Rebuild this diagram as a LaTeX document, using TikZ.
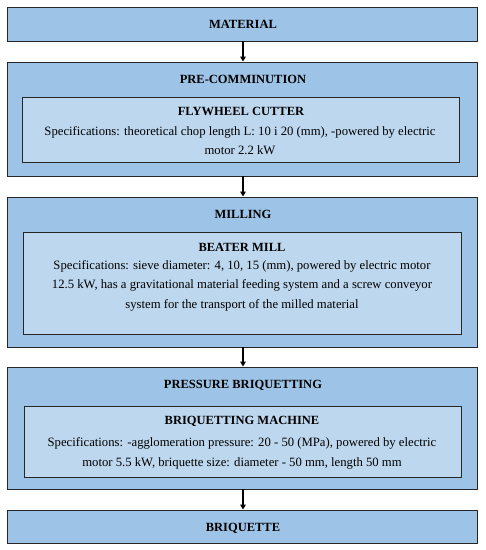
\documentclass[tikz,border=0pt]{standalone}
\usepackage{fontspec}
\setmainfont{Liberation Serif}
\usetikzlibrary{arrows.meta}
\definecolor{outerblue}{HTML}{9DC3E6}
\definecolor{innerblue}{HTML}{BDD7EE}
\definecolor{edge}{HTML}{262626}
\tikzset{
  outerbox/.style={draw=edge, line width=0.9pt, fill=outerblue, minimum width=470pt, inner sep=0pt, rectangle},
  innerbox/.style={draw=edge, line width=0.9pt, fill=innerblue, inner sep=0pt, rectangle},
  titletxt/.style={font=\fontsize{12.5}{15}\selectfont\bfseries, inner sep=0pt, anchor=center},
  spectxt/.style={font=\fontsize{12.7}{19.5}\selectfont, align=center, inner sep=0pt, anchor=center},
  flowarrow/.style={line width=1.3pt, -{Triangle[length=5pt,width=5.5pt]}}
}
\begin{document}
\begin{tikzpicture}[x=1pt,y=-1pt]
\useasboundingbox (0,0) rectangle (486,550);
% outer boxes
\node[outerbox, minimum height=34pt] (mat) at (242,24) {};
\node[outerbox, minimum height=114pt] (pre) at (242,119) {};
\node[outerbox, minimum height=150pt] (mil) at (242,272) {};
\node[outerbox, minimum height=122pt] (pb) at (242,428) {};
\node[outerbox, minimum height=33pt] (bri) at (242,526.5) {};
% inner boxes
\node[innerbox, minimum width=437pt, minimum height=65pt] (fly) at (240.5,129.5) {};
\node[innerbox, minimum width=438pt, minimum height=102pt] (bm) at (242,283) {};
\node[innerbox, minimum width=437pt, minimum height=71pt] (bmach) at (242.5,441.5) {};
% titles
\node[titletxt] (tmat) at (243,24) {MATERIAL};
\node[titletxt] (tpre) at (243,79) {PRE-COMMINUTION};
\node[titletxt] (tmil) at (243,214) {MILLING};
\node[titletxt] (tpb) at (243,385) {PRESSURE BRIQUETTING};
\node[titletxt] (tbri) at (243,528) {BRIQUETTE};
% inner headers
\node[titletxt] (hfly) at (241,111) {FLYWHEEL CUTTER};
\node[titletxt] (hbm) at (242,247) {BEATER MILL};
\node[titletxt] (hbmach) at (242,421) {BRIQUETTING MACHINE};
% spec texts
\node[spectxt] (sfly) at (240,140.5) {Specifications: theoretical chop length L: 10 i 20 (mm), -powered by electric\\motor 2.2 kW};
\node[spectxt] (sbm) at (242,285.5) {Specifications: sieve diameter: 4, 10, 15 (mm), powered by electric motor\\12.5 kW, has a gravitational material feeding system and a screw conveyor\\system for the transport of the milled material};
\node[spectxt] (sbmach) at (242,453.5) {Specifications: -agglomeration pressure: 20 - 50 (MPa), powered by electric\\motor 5.5 kW, briquette size: diameter - 50 mm, length 50 mm};
% arrows
\draw[flowarrow] (mat.south -| tmat) -- (pre.north -| tmat);
\draw[flowarrow] (pre.south -| tmat) -- (mil.north -| tmat);
\draw[flowarrow] (mil.south -| tmat) -- (pb.north -| tmat);
\draw[flowarrow] (pb.south -| tmat) -- (bri.north -| tmat);
\end{tikzpicture}
\end{document}
